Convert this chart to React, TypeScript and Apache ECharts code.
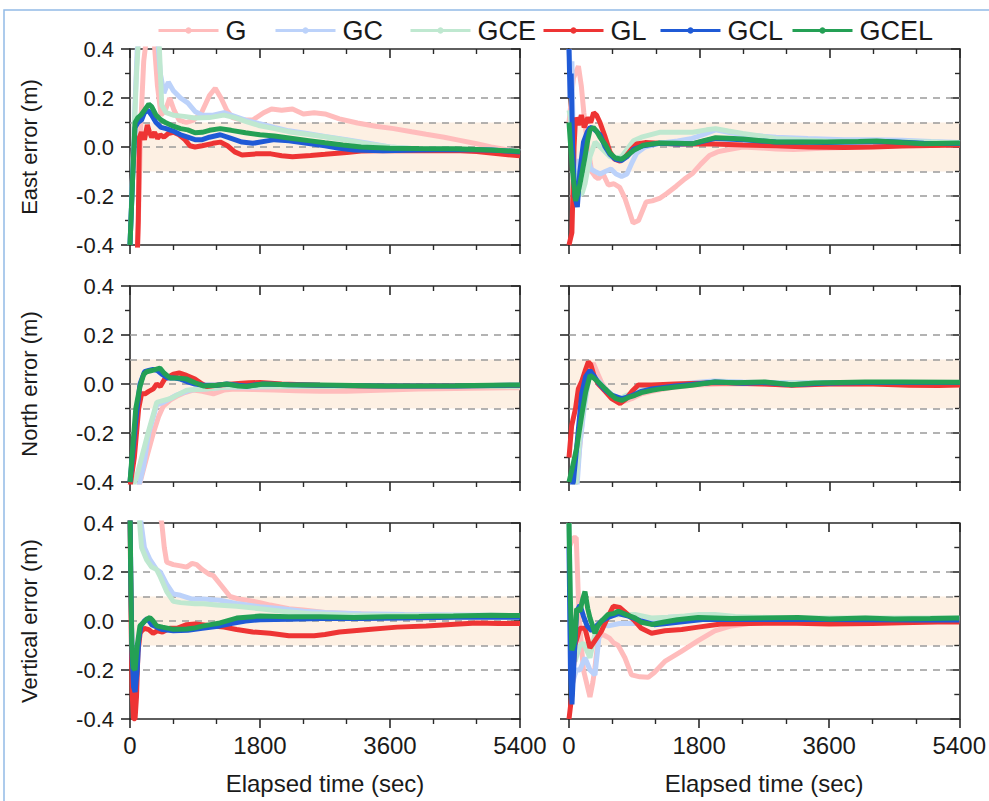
import React, { useEffect, useRef } from "react";
import * as echarts from "echarts";

const FONT = "Liberation Sans, Arial, Helvetica, sans-serif";

const SERIES_NAMES = ["G", "GC", "GCE", "GL", "GCL", "GCEL"];
const ROW_TITLES = ["East error (m)", "North error (m)", "Vertical error (m)"];
const X_TITLE = "Elapsed time (sec)";
const X_MIN = 0;
const X_MAX = 5400;
const X_STEP = 1800;
const Y_MIN = -0.4;
const Y_MAX = 0.4;
const Y_STEP = 0.2;
const BAND = [-0.1, 0.1];
const DASH_LEVELS = [-0.2, -0.1, 0, 0.1, 0.2];

// ---- East, left column ----
const EL_G = [[100,-0.45],[125,-0.2],[150,0.1],[190,0.35],[230,0.45],[330,0.45],[380,0.25],[430,0.13],[490,0.15],[550,0.2],[610,0.15],[680,0.11],[780,0.1],[880,0.11],[990,0.14],[1100,0.21],[1180,0.24],[1260,0.2],[1340,0.15],[1420,0.12],[1550,0.11],[1700,0.11],[1850,0.14],[1960,0.155],[2100,0.15],[2250,0.155],[2400,0.135],[2550,0.14],[2700,0.135],[2900,0.115],[3150,0.098],[3400,0.085],[3650,0.075],[3900,0.062],[4100,0.052],[4350,0.04],[4550,0.028],[4800,0.013],[5000,0.0],[5200,-0.01],[5400,-0.018]];
const EL_GC = [[0,-0.4],[60,0.1],[100,0.4],[140,0.45],[380,0.45],[420,0.3],[470,0.22],[530,0.265],[600,0.23],[700,0.2],[800,0.18],[900,0.145],[1000,0.13],[1150,0.13],[1300,0.14],[1450,0.125],[1600,0.11],[1780,0.096],[2000,0.08],[2200,0.066],[2450,0.055],[2700,0.043],[3000,0.03],[3300,0.015],[3600,0.0],[4000,-0.008],[4500,-0.01],[5000,-0.012],[5400,-0.018]];
const EL_GCE = [[0,-0.4],[50,0.0],[90,0.3],[120,0.45],[400,0.45],[440,0.17],[500,0.14],[600,0.13],[750,0.125],[900,0.118],[1100,0.12],[1300,0.13],[1450,0.12],[1600,0.105],[1780,0.088],[2000,0.075],[2240,0.06],[2500,0.05],[2700,0.042],[3000,0.028],[3300,0.012],[3600,0.0],[4000,-0.008],[4500,-0.01],[5000,-0.012],[5400,-0.018]];
const EL_GL = [[0,-0.45],[100,-0.45],[115,-0.3],[130,0.04],[160,0.06],[200,0.03],[240,0.09],[270,0.06],[300,0.04],[340,0.06],[380,0.035],[420,0.05],[470,0.04],[530,0.055],[600,0.06],[680,0.05],[760,0.03],[830,0.005],[900,0.0],[1000,0.005],[1150,0.015],[1250,0.02],[1350,0.005],[1450,-0.02],[1550,-0.033],[1750,-0.028],[1950,-0.028],[2100,-0.036],[2250,-0.04],[2500,-0.035],[2700,-0.03],[3000,-0.022],[3200,-0.016],[3600,-0.014],[4000,-0.015],[4500,-0.014],[4800,-0.018],[5100,-0.028],[5400,-0.036]];
const EL_GCL = [[0,-0.4],[40,-0.1],[70,0.08],[110,0.1],[160,0.11],[200,0.14],[250,0.15],[300,0.13],[360,0.1],[430,0.08],[500,0.075],[600,0.065],[700,0.05],[800,0.04],[900,0.03],[1000,0.03],[1100,0.04],[1250,0.05],[1400,0.035],[1550,0.02],[1700,0.015],[1900,0.025],[2000,0.03],[2200,0.025],[2450,0.015],[2700,0.005],[2900,-0.005],[3100,-0.012],[3500,-0.015],[4000,-0.012],[4500,-0.01],[5000,-0.012],[5400,-0.02]];
const EL_GCEL = [[0,-0.4],[40,-0.1],[70,0.1],[110,0.12],[150,0.13],[200,0.15],[260,0.175],[300,0.165],[360,0.13],[430,0.11],[490,0.1],[600,0.085],[700,0.075],[800,0.07],[900,0.058],[1000,0.06],[1100,0.068],[1250,0.075],[1400,0.068],[1600,0.058],[1800,0.05],[2000,0.045],[2250,0.035],[2500,0.025],[2700,0.017],[2950,0.008],[3200,0.0],[3600,-0.005],[4000,-0.006],[4500,-0.007],[5000,-0.012],[5400,-0.018]];

// ---- East, right column ----
const ER_G = [[0,0.1],[60,0.28],[130,0.33],[170,0.25],[205,0.14],[250,0.02],[313,-0.1],[360,-0.12],[405,-0.13],[470,-0.11],[543,-0.155],[620,-0.15],[700,-0.165],[773,-0.21],[830,-0.26],[885,-0.31],[960,-0.3],[1066,-0.224],[1150,-0.22],[1250,-0.21],[1350,-0.19],[1480,-0.16],[1600,-0.13],[1710,-0.107],[1820,-0.07],[1940,-0.035],[2050,-0.02],[2170,-0.012],[2400,0.0],[2650,-0.004],[2860,-0.008],[3100,-0.01],[3500,-0.005],[4000,0.0],[4500,0.005],[5000,0.008],[5400,0.01]];
const ER_GC = [[0,0.4],[20,0.3],[40,0.35],[60,0.0],[80,-0.1],[110,-0.05],[150,-0.12],[200,-0.06],[250,-0.02],[300,-0.09],[360,-0.1],[430,-0.11],[500,-0.1],[580,-0.09],[650,-0.11],[727,-0.12],[800,-0.11],[860,-0.07],[934,-0.025],[1050,0.0],[1250,0.015],[1500,0.025],[1700,0.035],[1850,0.05],[2025,0.07],[2200,0.06],[2400,0.05],[2860,0.04],[3300,0.035],[3800,0.03],[4200,0.03],[4600,0.028],[5000,0.022],[5400,0.018]];
const ER_GCE = [[0,0.15],[20,0.12],[50,-0.05],[115,-0.2],[180,-0.19],[221,-0.15],[290,-0.04],[360,0.02],[428,0.0],[500,-0.02],[566,-0.04],[650,-0.045],[727,-0.04],[800,-0.01],[890,0.025],[1000,0.04],[1250,0.06],[1500,0.06],[1710,0.06],[1900,0.07],[2025,0.075],[2200,0.065],[2400,0.055],[2860,0.035],[3550,0.025],[4200,0.022],[5000,0.02],[5400,0.016]];
const ER_GL = [[0,-0.4],[40,-0.35],[70,0.0],[90,0.12],[130,0.09],[170,0.13],[210,0.08],[260,0.12],[300,0.1],[340,0.14],[380,0.13],[428,0.1],[500,0.04],[566,-0.02],[630,-0.05],[704,-0.058],[780,-0.04],[860,-0.01],[934,0.012],[1050,0.018],[1250,0.015],[1500,0.012],[1710,0.013],[2000,0.012],[2400,0.008],[2860,0.005],[3300,0.0],[3800,-0.002],[4200,0.0],[4600,0.004],[5000,0.006],[5400,0.008]];
const ER_GCL = [[0,0.4],[15,0.2],[30,0.3],[50,0.0],[80,-0.2],[115,-0.245],[150,-0.1],[200,0.02],[250,0.06],[290,0.08],[340,0.075],[428,0.05],[500,0.0],[566,-0.03],[640,-0.05],[727,-0.055],[800,-0.04],[890,-0.01],[1025,0.005],[1250,0.015],[1500,0.012],[1700,0.013],[2025,0.035],[2400,0.03],[2860,0.02],[3550,0.018],[4000,0.02],[4400,0.022],[4900,0.015],[5400,0.014]];
const ER_GCEL = [[0,0.1],[14,0.04],[50,-0.1],[90,-0.22],[120,-0.19],[152,-0.15],[190,-0.09],[221,-0.04],[260,0.03],[290,0.07],[336,0.08],[380,0.065],[428,0.04],[500,0.01],[566,-0.025],[640,-0.045],[727,-0.05],[800,-0.035],[888,-0.015],[1025,0.007],[1250,0.016],[1500,0.015],[1700,0.013],[1850,0.025],[2025,0.038],[2200,0.036],[2400,0.033],[2860,0.02],[3200,0.02],[3550,0.02],[4000,0.022],[4250,0.024],[4600,0.018],[4900,0.013],[5400,0.016]];

// ---- North, left column ----
const NL_G = [[0,-0.45],[80,-0.45],[140,-0.4],[230,-0.3],[323,-0.2],[400,-0.13],[462,-0.09],[560,-0.065],[646,-0.05],[760,-0.035],[877,-0.025],[1000,-0.03],[1154,-0.04],[1300,-0.025],[1450,-0.02],[1700,-0.022],[2000,-0.025],[2300,-0.028],[2631,-0.03],[3000,-0.03],[3555,-0.025],[4000,-0.02],[4500,-0.018],[5000,-0.016],[5400,-0.015]];
const NL_GC = [[0,-0.45],[120,-0.42],[185,-0.34],[260,-0.2],[370,-0.085],[460,-0.075],[554,-0.06],[646,-0.045],[830,-0.025],[1016,-0.02],[1340,-0.012],[1700,-0.012],[2200,-0.01],[3000,-0.01],[4000,-0.01],[5400,-0.01]];
const NL_GCE = [[0,-0.45],[90,-0.38],[250,-0.2],[370,-0.075],[554,-0.06],[785,-0.025],[1062,-0.02],[1340,-0.012],[1700,-0.01],[2500,-0.01],[4000,-0.01],[5400,-0.01]];
const NL_GL = [[0,-0.42],[60,-0.3],[120,-0.1],[160,-0.04],[208,-0.04],[260,-0.03],[323,-0.02],[370,0.0],[420,-0.01],[480,0.02],[540,0.03],[600,0.04],[680,0.045],[785,0.035],[900,0.02],[1000,0.0],[1062,-0.01],[1200,-0.005],[1339,-0.002],[1500,0.002],[1650,0.005],[1800,0.006],[2100,0.0],[2631,-0.005],[3200,-0.008],[4000,-0.008],[4800,-0.007],[5400,-0.006]];
const NL_GCL = [[0,-0.4],[80,-0.15],[138,0.0],[200,0.05],[260,0.055],[320,0.06],[380,0.055],[440,0.04],[520,0.025],[600,0.025],[700,0.02],[785,0.01],[900,0.0],[1016,-0.005],[1200,-0.005],[1339,0.0],[1500,-0.005],[1616,-0.008],[1847,0.0],[2200,-0.003],[2631,-0.005],[3555,-0.008],[4500,-0.008],[5400,-0.005]];
const NL_GCEL = [[0,-0.4],[80,-0.1],[138,-0.01],[190,0.04],[231,0.05],[300,0.055],[415,0.065],[470,0.045],[554,0.025],[650,0.025],[785,0.02],[900,0.005],[1016,-0.008],[1200,-0.005],[1339,0.0],[1500,-0.008],[1616,-0.01],[1847,0.0],[2200,-0.003],[2631,-0.004],[3100,-0.006],[3555,-0.008],[4500,-0.007],[5400,-0.004]];

// ---- North, right column ----
const NR_G = [[0,-0.45],[100,-0.4],[150,-0.25],[200,-0.1],[260,0.04],[336,0.085],[400,0.04],[451,0.005],[550,-0.04],[681,-0.075],[770,-0.07],[865,-0.06],[1000,-0.04],[1142,-0.03],[1400,-0.015],[1700,-0.005],[2100,0.0],[2700,0.0],[3100,-0.005],[3600,0.0],[4200,0.0],[4800,-0.002],[5400,-0.003]];
const NR_GC = [[0,-0.45],[110,-0.42],[150,-0.25],[200,-0.12],[270,0.02],[320,0.04],[400,0.015],[500,-0.02],[600,-0.045],[700,-0.06],[800,-0.05],[950,-0.025],[1150,-0.015],[1400,-0.005],[1700,0.005],[2000,0.012],[2400,0.008],[3000,0.005],[4000,0.006],[5400,0.005]];
const NR_GCE = [[0,-0.45],[100,-0.4],[150,-0.2],[210,-0.08],[270,0.02],[320,0.035],[400,0.01],[500,-0.025],[600,-0.05],[700,-0.06],[800,-0.045],[950,-0.03],[1150,-0.015],[1400,-0.008],[1700,0.0],[2000,0.008],[2400,0.006],[3000,0.003],[4000,0.005],[5400,0.006]];
const NR_GL = [[0,-0.3],[37,-0.17],[90,-0.1],[129,-0.02],[175,0.01],[230,0.06],[267,0.09],[300,0.08],[350,0.03],[405,0.0],[500,-0.03],[589,-0.06],[705,-0.08],[790,-0.06],[870,-0.03],[957,-0.004],[1142,-0.004],[1464,0.0],[1800,0.003],[2100,0.005],[2700,0.0],[3075,-0.005],[3600,0.0],[4200,0.0],[4700,-0.005],[5100,-0.006],[5400,-0.004]];
const NR_GCL = [[0,-0.45],[60,-0.4],[106,-0.26],[175,-0.04],[230,0.03],[290,0.055],[340,0.035],[405,0.005],[500,-0.025],[589,-0.045],[728,-0.06],[850,-0.05],[1000,-0.03],[1142,-0.02],[1464,-0.008],[1694,-0.002],[2017,0.008],[2400,0.003],[2707,0.006],[3075,-0.003],[3500,0.003],[4088,0.006],[4600,0.006],[5400,0.006]];
const NR_GCEL = [[0,-0.4],[40,-0.35],[106,-0.26],[175,-0.128],[230,-0.033],[290,0.035],[340,0.025],[405,0.008],[500,-0.02],[589,-0.046],[650,-0.06],[728,-0.067],[820,-0.055],[911,-0.046],[1000,-0.035],[1142,-0.026],[1300,-0.018],[1464,-0.012],[1694,-0.005],[2017,0.008],[2300,0.005],[2707,0.008],[3075,-0.003],[3400,0.004],[4088,0.008],[4600,0.008],[5400,0.007]];

// ---- Vertical, left column ----
const VL_G = [[0,0.45],[400,0.45],[440,0.4],[475,0.3],[508,0.24],[600,0.23],[700,0.225],[785,0.22],[860,0.235],[923,0.23],[1000,0.21],[1100,0.19],[1154,0.185],[1250,0.15],[1385,0.1],[1500,0.09],[1620,0.085],[1800,0.075],[1940,0.065],[2200,0.05],[2400,0.045],[2700,0.035],[3100,0.03],[3600,0.025],[4200,0.022],[4800,0.02],[5400,0.02]];
const VL_GC = [[0,0.45],[130,0.45],[200,0.3],[277,0.25],[369,0.21],[420,0.2],[508,0.15],[600,0.11],[700,0.105],[850,0.09],[1016,0.09],[1246,0.085],[1500,0.07],[1800,0.058],[2100,0.05],[2400,0.04],[2700,0.035],[3200,0.03],[3800,0.027],[4500,0.025],[5400,0.022]];
const VL_GCE = [[0,0.45],[120,0.45],[160,0.3],[230,0.25],[300,0.22],[369,0.21],[420,0.18],[508,0.12],[600,0.08],[700,0.075],[900,0.07],[1016,0.07],[1200,0.065],[1477,0.06],[1800,0.05],[2100,0.04],[2500,0.03],[3000,0.025],[3600,0.022],[4500,0.022],[5400,0.022]];
const VL_GL = [[0,0.45],[15,0.0],[30,-0.3],[50,-0.4],[70,-0.4],[90,-0.31],[110,-0.13],[140,-0.05],[162,-0.04],[200,-0.03],[260,-0.035],[320,-0.05],[380,-0.04],[450,-0.045],[550,-0.03],[650,-0.03],[785,-0.015],[900,-0.012],[1154,-0.02],[1300,-0.025],[1477,-0.035],[1700,-0.045],[1939,-0.05],[2200,-0.06],[2400,-0.06],[2550,-0.06],[2700,-0.055],[2900,-0.045],[3300,-0.035],[3700,-0.025],[4100,-0.02],[4500,-0.013],[4800,-0.008],[5100,-0.01],[5400,-0.01]];
const VL_GCL = [[0,0.45],[15,0.1],[30,-0.15],[50,-0.27],[70,-0.29],[100,-0.2],[120,-0.08],[150,-0.02],[200,0.0],[240,0.01],[300,-0.015],[369,-0.025],[450,-0.035],[600,-0.04],[800,-0.038],[1000,-0.03],[1246,-0.02],[1400,-0.01],[1600,0.0],[1800,0.005],[2200,0.007],[2631,0.01],[3200,0.01],[3800,0.012],[4500,0.015],[5400,0.015]];
const VL_GCEL = [[0,0.45],[10,0.2],[25,-0.1],[45,-0.19],[70,-0.2],[100,-0.1],[138,-0.02],[190,-0.005],[231,0.007],[277,0.014],[320,0.0],[369,-0.02],[450,-0.025],[600,-0.034],[785,-0.033],[900,-0.028],[1016,-0.02],[1246,-0.008],[1477,0.012],[1800,0.02],[2200,0.017],[2631,0.017],[3100,0.014],[3555,0.017],[4000,0.018],[4478,0.02],[5000,0.023],[5400,0.022]];

// ---- Vertical, right column ----
const VR_G = [[0,0.3],[60,0.34],[100,0.34],[140,0.013],[200,-0.2],[290,-0.31],[330,-0.25],[359,-0.19],[405,-0.07],[451,-0.055],[500,-0.06],[560,-0.07],[620,-0.09],[681,-0.1],[773,-0.15],[865,-0.22],[980,-0.228],[1096,-0.23],[1180,-0.21],[1326,-0.165],[1550,-0.125],[1787,-0.08],[2017,-0.04],[2246,-0.02],[2500,-0.01],[3000,-0.005],[3600,0.0],[4200,0.0],[5400,0.0]];
const VR_GC = [[0,0.4],[20,-0.1],[41,-0.26],[100,-0.2],[150,-0.2],[221,-0.15],[290,-0.2],[359,-0.22],[420,-0.05],[451,-0.01],[543,-0.02],[700,-0.01],[911,-0.01],[1150,0.0],[1372,0.015],[1787,0.02],[2250,0.01],[3000,0.008],[4000,0.01],[5400,0.01]];
const VR_GCE = [[0,0.4],[20,0.0],[83,-0.165],[150,-0.1],[200,-0.09],[290,-0.15],[360,-0.05],[451,-0.01],[543,0.02],[700,0.025],[911,0.027],[1142,0.012],[1372,0.015],[1600,0.02],[1800,0.027],[2017,0.027],[2300,0.018],[3000,0.012],[4000,0.012],[5400,0.012]];
const VR_GL = [[0,-0.4],[40,-0.3],[80,-0.1],[150,-0.03],[221,-0.03],[290,-0.11],[359,-0.08],[451,-0.04],[543,0.02],[612,0.06],[700,0.055],[800,0.03],[911,0.0],[1000,-0.03],[1142,-0.05],[1326,-0.04],[1560,-0.035],[1787,-0.025],[2100,-0.012],[2500,-0.01],[3000,-0.008],[3600,-0.012],[4200,-0.01],[4600,-0.007],[5100,-0.004],[5400,-0.004]];
const VR_GCL = [[0,0.3],[20,-0.2],[41,-0.34],[80,-0.1],[106,0.04],[152,0.065],[200,0.02],[250,-0.02],[313,-0.04],[380,-0.02],[451,0.0],[543,0.015],[681,0.03],[820,0.02],[1000,0.0],[1180,-0.015],[1350,-0.01],[1600,-0.002],[1850,0.006],[2246,0.006],[2700,0.006],[3500,0.006],[4200,0.005],[4800,0.004],[5400,0.004]];
const VR_GCEL = [[0,0.4],[18,0.1],[40,-0.12],[80,-0.08],[106,0.05],[152,0.04],[190,0.09],[221,0.12],[260,0.05],[290,0.013],[359,-0.05],[400,-0.02],[451,0.0],[543,0.027],[612,0.03],[681,0.04],[800,0.025],[911,0.013],[1000,-0.005],[1142,-0.014],[1300,-0.005],[1500,0.005],[1787,0.014],[2246,0.01],[2700,0.012],[3167,0.014],[3600,0.008],[4100,0.012],[4500,0.008],[5000,0.01],[5400,0.012]];

const PANELS = [
  { row: 0, col: 0, series: [EL_G, EL_GC, EL_GCE, EL_GL, EL_GCL, EL_GCEL] },
  { row: 0, col: 1, series: [ER_G, ER_GC, ER_GCE, ER_GL, ER_GCL, ER_GCEL] },
  { row: 1, col: 0, series: [NL_G, NL_GC, NL_GCE, NL_GL, NL_GCL, NL_GCEL] },
  { row: 1, col: 1, series: [NR_G, NR_GC, NR_GCE, NR_GL, NR_GCL, NR_GCEL] },
  { row: 2, col: 0, series: [VL_G, VL_GC, VL_GCE, VL_GL, VL_GCL, VL_GCEL] },
  { row: 2, col: 1, series: [VR_G, VR_GC, VR_GCE, VR_GL, VR_GCL, VR_GCEL] },
];

// ---- styling / layout ----
const COLORS = ["#ffbcbc", "#bcd2fa", "#bfe8d0", "#ee3434", "#1f5ad6", "#24a055"];
const GRID_LEFT = [130, 569];
const GRID_WIDTH = [390, 391];
const GRID_TOP = [49, 286, 523];
const GRID_HEIGHT = 196;
const LEGEND_LEFT = [152, 269, 404, 537, 654, 786];
const AXIS_COLOR = "#2a2a2a";
const TEXT_COLOR = "#1a1a1a";

function buildOption() {
  const grid: any[] = [];
  const xAxis: any[] = [];
  const yAxis: any[] = [];
  const series: any[] = [];
  const axisLine = { show: true, onZero: false, lineStyle: { color: AXIS_COLOR, width: 1.6 } };

  PANELS.forEach((p, i) => {
    grid.push({
      left: GRID_LEFT[p.col],
      top: GRID_TOP[p.row],
      width: GRID_WIDTH[p.col],
      height: GRID_HEIGHT,
      containLabel: false,
    });
    const xCommon = {
      gridIndex: i,
      type: "value",
      min: X_MIN,
      max: X_MAX,
      interval: X_STEP,
      axisLine,
      splitLine: { show: false },
      minorTick: { show: true, splitNumber: 3, length: 5, lineStyle: { color: AXIS_COLOR, width: 1.4 } },
      minorSplitLine: { show: false },
    };
    xAxis.push({
      ...xCommon,
      position: "bottom",
      axisTick: { show: true, inside: false, length: 9, lineStyle: { color: AXIS_COLOR, width: 1.6 } },
      axisLabel: {
        show: p.row === 2,
        fontSize: 24,
        fontFamily: FONT,
        color: TEXT_COLOR,
        margin: 14,
        formatter: (v: number) => String(Math.round(v)),
      },
      name: p.row === 2 ? X_TITLE : "",
      nameLocation: "middle",
      nameGap: 52,
      nameTextStyle: { fontSize: 24, fontFamily: FONT, color: TEXT_COLOR },
    });
    xAxis.push({
      ...xCommon,
      position: "top",
      axisTick: { show: true, inside: true, length: 9, lineStyle: { color: AXIS_COLOR, width: 1.6 } },
      axisLabel: { show: false },
    });
    const yCommon = {
      gridIndex: i,
      type: "value",
      min: Y_MIN,
      max: Y_MAX,
      interval: Y_STEP,
      axisLine,
      splitLine: { show: false },
      minorTick: { show: true, splitNumber: 2, length: 5, lineStyle: { color: AXIS_COLOR, width: 1.4 } },
      minorSplitLine: { show: false },
    };
    yAxis.push({
      ...yCommon,
      position: "left",
      axisTick: { show: true, inside: false, length: 9, lineStyle: { color: AXIS_COLOR, width: 1.6 } },
      axisLabel: {
        show: p.col === 0,
        fontSize: 22,
        fontFamily: FONT,
        color: TEXT_COLOR,
        margin: 16,
        formatter: (v: number) => (Math.abs(v) < 1e-9 ? 0 : v).toFixed(1),
      },
      name: p.col === 0 ? ROW_TITLES[p.row] : "",
      nameLocation: "middle",
      nameRotate: 90,
      nameGap: 90,
      nameTextStyle: { fontSize: 22, fontFamily: FONT, color: TEXT_COLOR },
    });
    yAxis.push({
      ...yCommon,
      position: "right",
      axisTick: { show: true, inside: true, length: 9, lineStyle: { color: AXIS_COLOR, width: 1.6 } },
      axisLabel: { show: false },
    });

    // band + dashed reference lines
    series.push({
      type: "line",
      name: "_ref" + i,
      xAxisIndex: i * 2,
      yAxisIndex: i * 2,
      data: [],
      silent: true,
      z: 1,
      markArea: {
        silent: true,
        z: 0,
        itemStyle: { color: "#fdf0e3" },
        data: [[{ yAxis: BAND[0] }, { yAxis: BAND[1] }]],
      },
      markLine: {
        silent: true,
        z: 1,
        symbol: ["none", "none"],
        label: { show: false },
        lineStyle: { color: "#9a9a9a", type: [7, 6], width: 1.5 },
        data: DASH_LEVELS.map((v) => ({ yAxis: v })),
      },
    });

    p.series.forEach((data, k) => {
      series.push({
        type: "line",
        name: SERIES_NAMES[k],
        xAxisIndex: i * 2,
        yAxisIndex: i * 2,
        data,
        showSymbol: false,
        symbol: "circle",
        symbolSize: 5,
        clip: true,
        silent: true,
        z: k < 3 ? 3 : 4,
        lineStyle: { color: COLORS[k], width: 5 },
        itemStyle: { color: COLORS[k] },
      });
    });
  });

  const legend = SERIES_NAMES.map((n, k) => ({
    data: [n],
    left: LEGEND_LEFT[k],
    top: 12,
    itemWidth: 60,
    itemHeight: 8,
    selectedMode: false,
    lineStyle: { width: 3 },
    textStyle: { fontSize: 27, fontFamily: FONT, color: TEXT_COLOR, padding: [0, 0, 0, 2] },
  }));

  return {
    animation: false,
    backgroundColor: "#ffffff",
    grid,
    xAxis,
    yAxis,
    series,
    legend,
    graphic: [
      {
        type: "rect",
        shape: { x: 4, y: 10, width: 1200, height: 1000 },
        style: { fill: "none", stroke: "#93bbe6", lineWidth: 1.5 },
        silent: true,
        z: 0,
      },
    ],
  };
}

export default function App() {
  const ref = useRef<HTMLDivElement>(null);
  useEffect(() => {
    if (!ref.current) return;
    const chart = echarts.init(ref.current, null, { renderer: "svg" });
    chart.setOption(buildOption() as any);
    return () => chart.dispose();
  }, []);
  return (
    <div
      ref={ref}
      style={{ position: "absolute", left: 0, top: 0, width: 989, height: 801, background: "#fff" }}
    />
  );
}
